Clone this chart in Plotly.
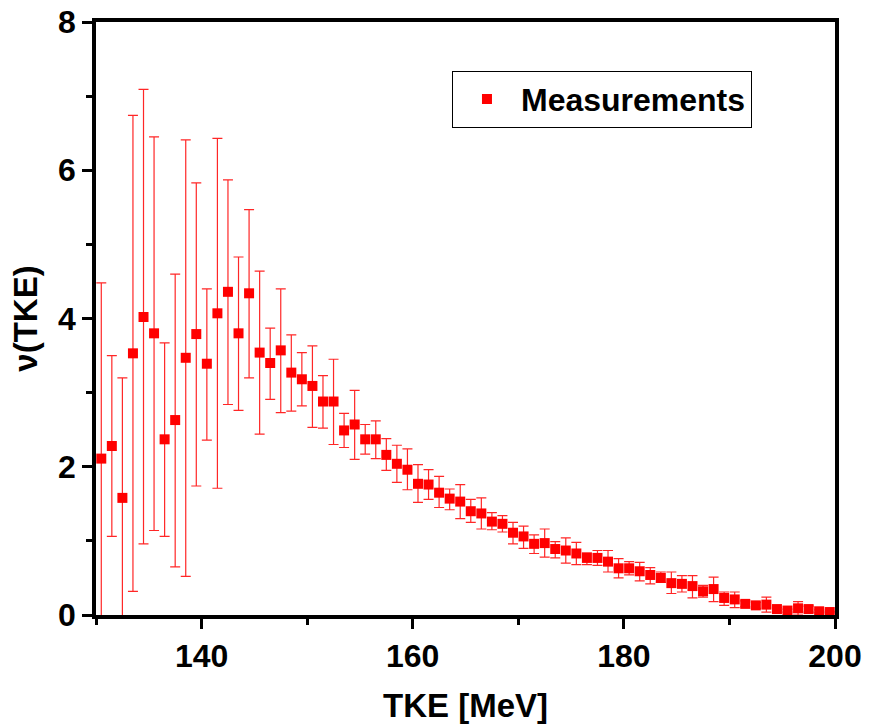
import plotly.graph_objects as go

tke = [130.5 + i for i in range(70)]
nu = [2.11, 2.28, 1.58, 3.53, 4.02, 3.80, 2.37, 2.63, 3.47, 3.79,
      3.39, 4.07, 4.36, 3.80, 4.34, 3.54, 3.40, 3.57, 3.27, 3.18,
      3.09, 2.88, 2.88, 2.49, 2.57, 2.37, 2.37, 2.16, 2.04, 1.96,
      1.77, 1.76, 1.65, 1.57, 1.53, 1.40, 1.37, 1.26, 1.23, 1.11,
      1.06, 0.96, 0.97, 0.89, 0.87, 0.83, 0.77, 0.77, 0.72, 0.63,
      0.63, 0.59, 0.54, 0.50, 0.43, 0.42, 0.39, 0.32, 0.35, 0.23,
      0.21, 0.15, 0.13, 0.14, 0.08, 0.06, 0.09, 0.08, 0.05, 0.04]
upper = [4.48, 3.50, 3.20, 6.74, 7.09, 6.45, 3.67, 4.60, 6.41, 5.83,
         4.40, 6.43, 5.87, 4.83, 5.47, 4.64, 3.87, 4.40, 3.78, 3.54,
         3.63, 3.23, 3.45, 2.72, 3.03, 2.57, 2.62, 2.38, 2.29, 2.24,
         2.03, 1.96, 1.87, 1.70, 1.76, 1.56, 1.58, 1.38, 1.34, 1.25,
         1.20, 1.08, 1.16, 0.99, 1.04, 0.98, 0.84, 0.87, 0.87, 0.76,
         0.72, 0.71, 0.64, 0.58, 0.58, 0.53, 0.53, 0.40, 0.51, 0.31,
         0.31, 0.19, 0.17, 0.24, 0.10, 0.08, 0.18, 0.12, 0.07, 0.05]
lower = [-0.26, 1.06, -0.04, 0.32, 0.96, 1.14, 1.06, 0.65, 0.52, 1.74,
         2.36, 1.71, 2.84, 2.76, 3.20, 2.44, 2.91, 2.73, 2.75, 2.82,
         2.53, 2.52, 2.30, 2.26, 2.10, 2.17, 2.11, 1.95, 1.79, 1.69,
         1.52, 1.56, 1.45, 1.42, 1.30, 1.25, 1.16, 1.15, 1.12, 0.96,
         0.90, 0.83, 0.78, 0.77, 0.70, 0.68, 0.68, 0.67, 0.58, 0.50,
         0.54, 0.46, 0.42, 0.44, 0.29, 0.31, 0.23, 0.24, 0.18, 0.13,
         0.10, 0.11, 0.09, 0.04, 0.06, 0.04, 0.00, 0.04, 0.03, 0.03]

err_plus = [u - v for u, v in zip(upper, nu)]
err_minus = [v - l for v, l in zip(nu, lower)]

FONT = "Liberation Sans, Arial, sans-serif"

fig = go.Figure()
fig.add_trace(go.Scatter(
    x=tke, y=nu, mode="markers", name="Measurements",
    marker=dict(symbol="square", size=10, color="#ff0000"),
    error_y=dict(type="data", symmetric=False, array=err_plus, arrayminus=err_minus,
                 color="rgba(255,0,0,0.85)", thickness=1.2, width=5),
))

axis_common = dict(
    showline=True, linecolor="black", linewidth=3.5, mirror=True,
    ticks="outside", tickcolor="black", tickwidth=3, ticklen=10,
    showgrid=False, zeroline=False,
    tickfont=dict(family=FONT, size=32, color="black", weight="bold"),
)

fig.update_layout(
    width=878, height=725,
    margin=dict(l=96, r=43, t=22, b=110, autoexpand=False),
    plot_bgcolor="white", paper_bgcolor="white",
    xaxis=dict(range=[130, 200], tick0=140, dtick=20,
               minor=dict(tick0=130, dtick=10, ticklen=6, tickwidth=3, ticks="outside", tickcolor="black"),
               title=dict(text="TKE [MeV]", font=dict(family=FONT, size=33, color="black", weight="bold"),
                          standoff=22),
               **axis_common),
    yaxis=dict(range=[0, 8], tick0=0, dtick=2,
               minor=dict(tick0=0, dtick=1, ticklen=6, tickwidth=3, ticks="outside", tickcolor="black"),
               title=dict(text="ν(TKE)", font=dict(family=FONT, size=33, color="black", weight="bold"),
                          standoff=12),
               **axis_common),
    showlegend=True,
    legend=dict(x=0.4817, y=0.918, xanchor="left", yanchor="top",
                bordercolor="black", borderwidth=1, bgcolor="white", itemwidth=58,
                font=dict(family=FONT, size=32, color="black", weight="bold")),
)

fig.write_html("out.html")
